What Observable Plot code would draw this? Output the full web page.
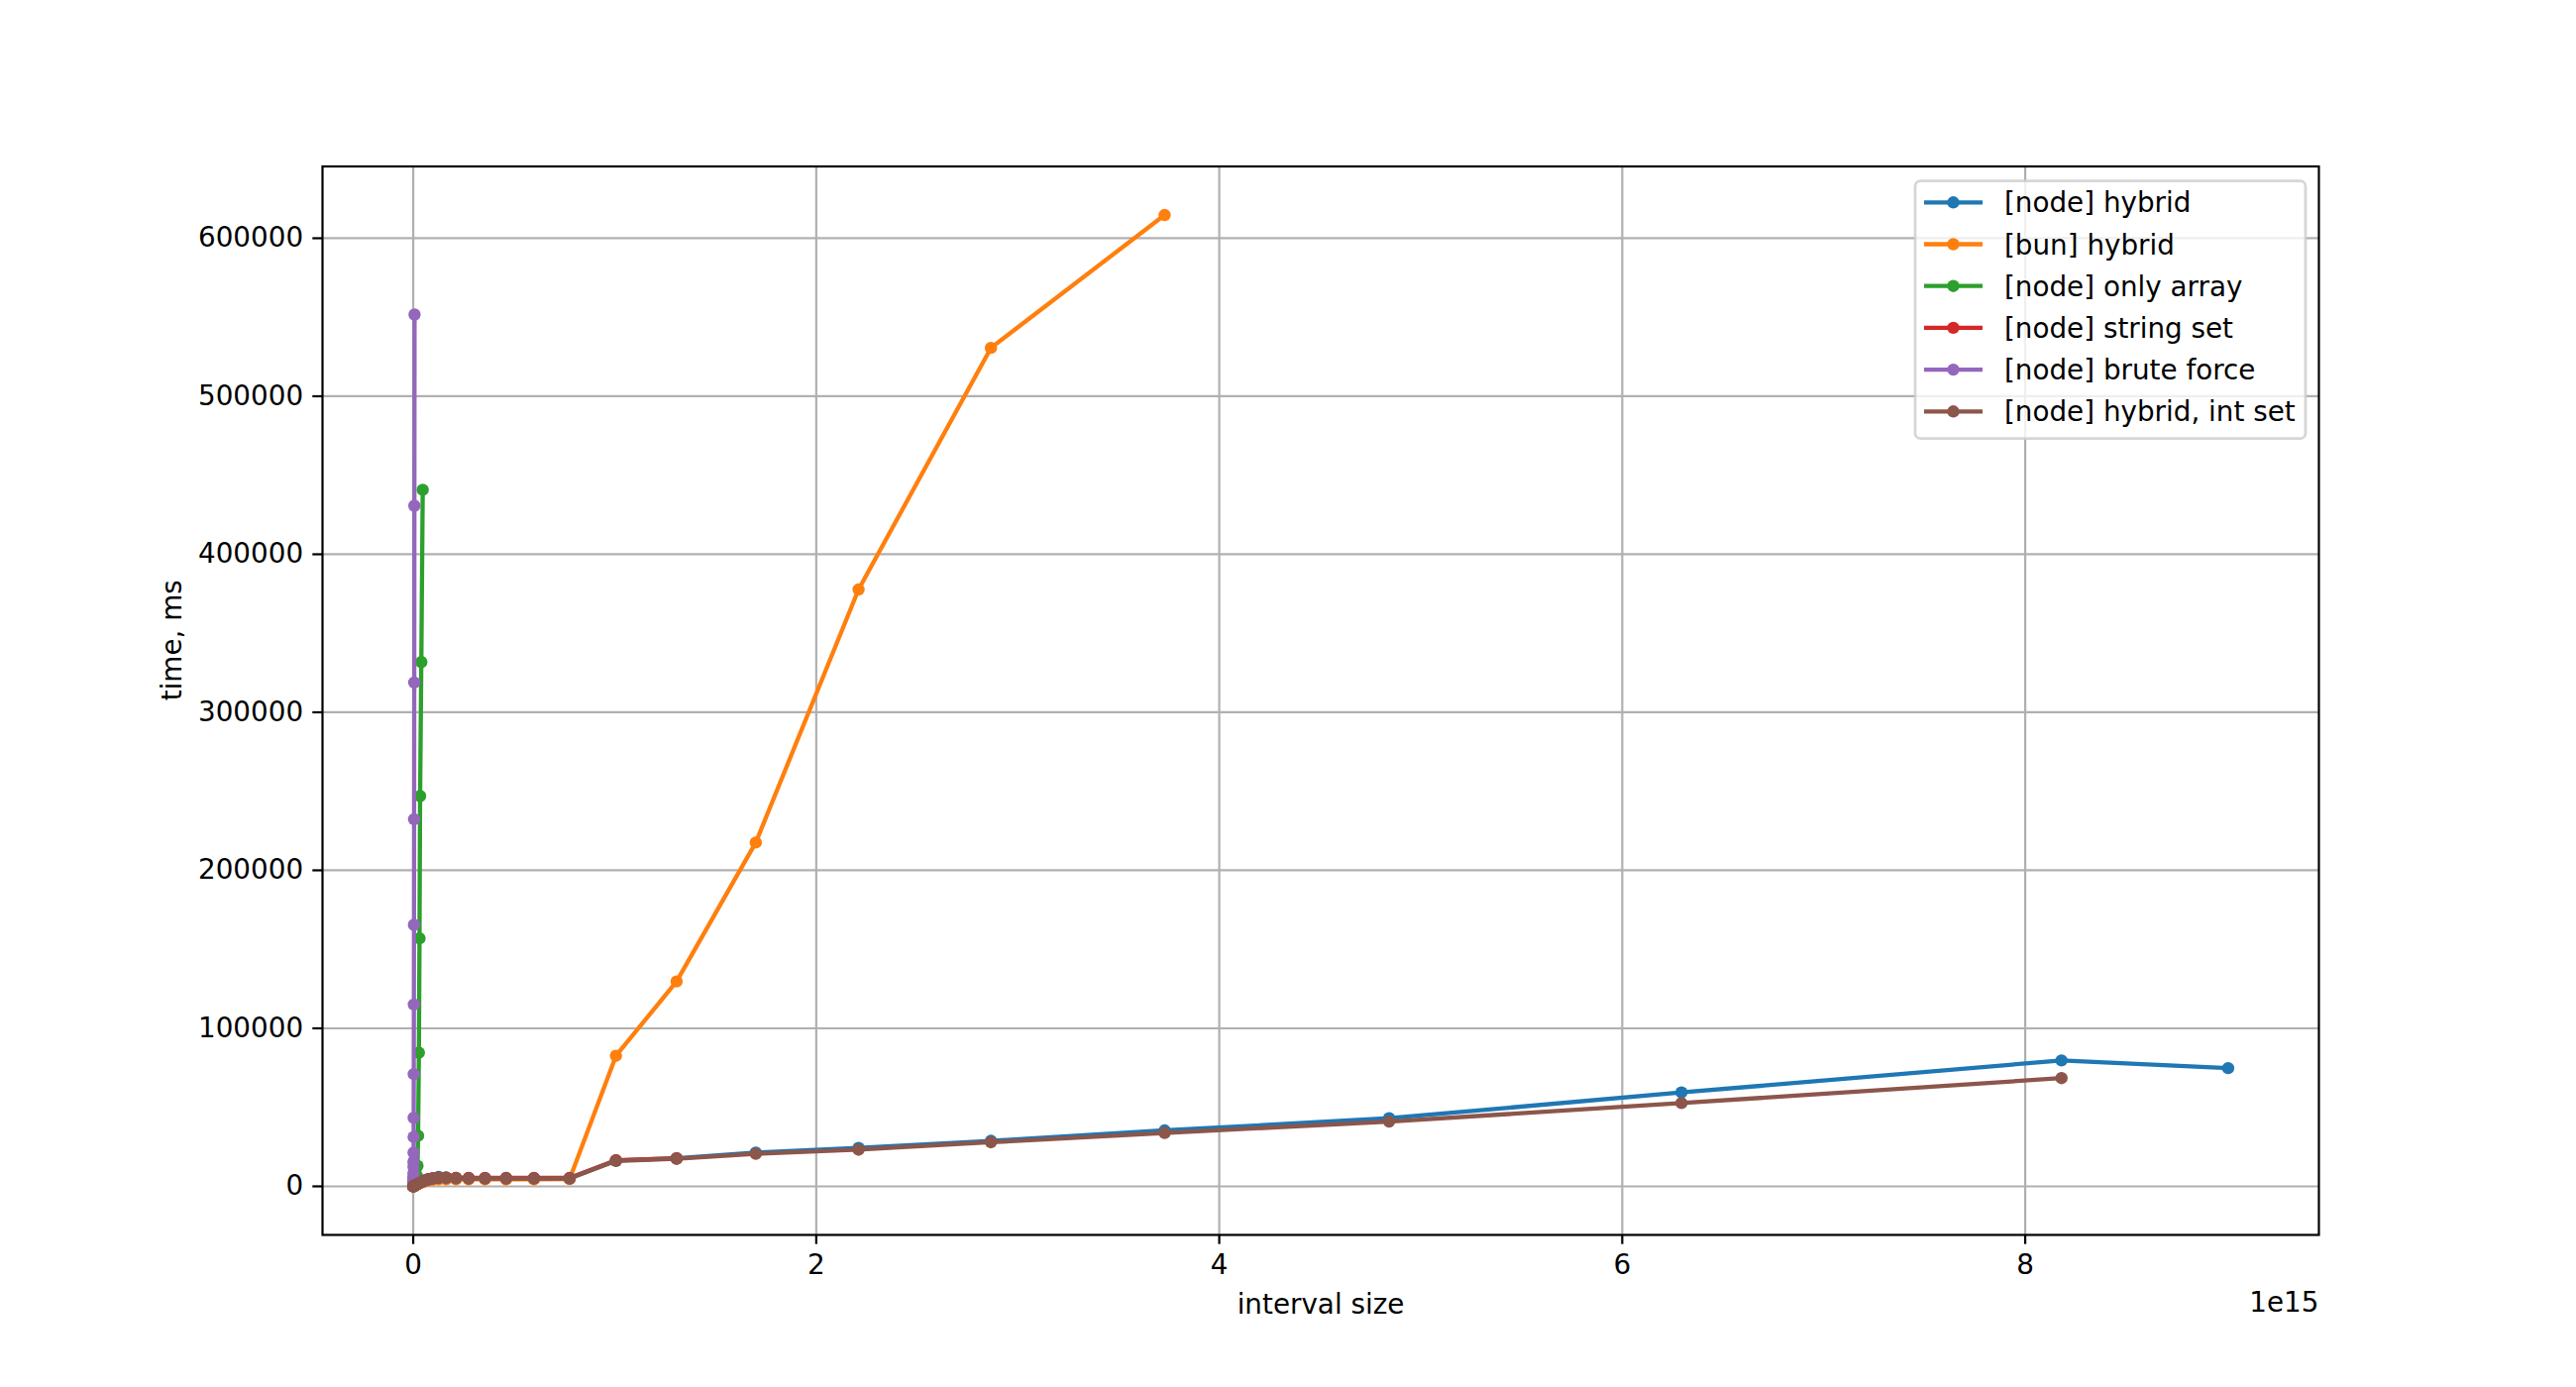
<!DOCTYPE html>
<html>
<head>
<meta charset="utf-8">
<script src="https://cdn.jsdelivr.net/npm/d3@7"></script>
<script src="https://cdn.jsdelivr.net/npm/@observablehq/plot@0.6"></script>
<style>
  html, body { margin: 0; padding: 0; background: #ffffff; }
  #chart svg { display: block; }
</style>
</head>
<body>
<div id="chart"></div>
<script>
// ---- series names & colours ----
const seriesNames = [
  "[node] hybrid",
  "[bun] hybrid",
  "[node] only array",
  "[node] string set",
  "[node] brute force",
  "[node] hybrid, int set"
];
const seriesColors = ["#1f77b4", "#ff7f0e", "#2ca02c", "#d62728", "#9467bd", "#8c564b"];

// ---- x values: interval size, in units of 1e15 ----
const hybridLowX = [0.0001, 0.0005, 0.001, 0.002, 0.003, 0.005, 0.007, 0.009, 0.012, 0.0155,
                    0.020, 0.026, 0.034, 0.044, 0.058, 0.075, 0.097, 0.126, 0.163, 0.212,
                    0.275, 0.356, 0.461, 0.599, 0.776];
const hybridHighX = [1.006, 1.307, 1.70, 2.21, 2.867, 3.729, 4.843, 6.294, 8.18, 9.007];
const onlyArrayX = [0.0001, 0.0005, 0.001, 0.002, 0.003, 0.005, 0.007, 0.010, 0.013, 0.017,
                    0.021, 0.024, 0.028, 0.031, 0.034, 0.040, 0.047];
const bruteForceX = [0.0001, 0.0002, 0.0003, 0.0004, 0.0005, 0.0007, 0.0009, 0.0011, 0.0013, 0.0016,
                     0.0019, 0.0022, 0.0026, 0.0031, 0.0036, 0.0042, 0.0049, 0.0056, 0.0064];

// ---- y values: time, ms ----
const nodeHybridY = [10, 40, 85, 160, 240, 400, 550, 720, 950, 1200,
                     1500, 1900, 2450, 3000, 3800, 4500, 5200, 5900, 5600, 5300,
                     5200, 5200, 5200, 5200, 5200,
                     16400, 17800, 21300, 24300, 28800, 35400, 43100, 59400, 79700, 74800];
const bunHybridY = [8, 30, 70, 130, 200, 330, 450, 600, 800, 1000,
                    1300, 1650, 2100, 2600, 3200, 3800, 4200, 4400, 4400, 4400,
                    4400, 4400, 4400, 4400, 4600,
                    82600, 129700, 217600, 377700, 530600, 614700];
const onlyArrayY = [5, 30, 70, 160, 260, 500, 900, 1800, 3500, 7000,
                    13000, 32000, 84600, 156900, 247000, 331800, 440800];
const stringSetY = [10, 45, 90, 170, 250, 420, 580, 750, 1000, 1250,
                    1600, 2000, 2550, 3100, 3800, 4500, 5100, 5500, 5500, 5400,
                    5300, 5300, 5300, 5300, 5300,
                    16500, 17700];
const bruteForceY = [100, 400, 1000, 2000, 3500, 5400, 8200, 12400, 15500, 21400,
                     31200, 43400, 71000, 115100, 165500, 232300, 318800, 430700, 551700];
const intSetY = [10, 40, 80, 150, 230, 380, 520, 680, 900, 1150,
                 1450, 1850, 2350, 2900, 3600, 4300, 4900, 5300, 5300, 5100,
                 5000, 5000, 5000, 5000, 5000,
                 16100, 17400, 20600, 23200, 27900, 33800, 41000, 52700, 68500];

// ---- tick values ----
const xTicks = [0, 2, 4, 6, 8];
const yTicks = [0, 100000, 200000, 300000, 400000, 500000, 600000];

// ---- build tables ----
const allHybridX = hybridLowX.concat(hybridHighX);
const seriesX = [allHybridX, allHybridX, onlyArrayX, allHybridX, bruteForceX, allHybridX];
const seriesY = [nodeHybridY, bunHybridY, onlyArrayY, stringSetY, bruteForceY, intSetY];
const tables = seriesNames.map((name, s) =>
  seriesY[s].map((y, i) => ({name, x: seriesX[s][i], y}))
);

const FS = 27.8;
const LW = 4.3;
const DOT_R = 6.2;

const marks = [
  Plot.gridX(xTicks, {stroke: "#b0b0b0", strokeOpacity: 1, strokeWidth: 2.2}),
  Plot.gridY(yTicks, {stroke: "#b0b0b0", strokeOpacity: 1, strokeWidth: 2.2})
];
tables.forEach((t, s) => {
  marks.push(Plot.line(t, {x: "x", y: "y", stroke: seriesColors[s], strokeWidth: LW, strokeLinejoin: "round", strokeLinecap: "butt"}));
  marks.push(Plot.dot(t, {x: "x", y: "y", fill: seriesColors[s], r: DOT_R, stroke: "none"}));
});
marks.push(
  Plot.frame({stroke: "#000", strokeWidth: 2.2}),
  Plot.axisX({ticks: xTicks, tickSize: 9.7, tickPadding: 9.7, strokeWidth: 2.2, stroke: "#000",
              tickFormat: d => String(d), label: null, fontSize: FS}),
  Plot.axisY({ticks: yTicks, tickSize: 9.7, tickPadding: 9.7, strokeWidth: 2.2, stroke: "#000",
              tickFormat: d => String(d), label: null, fontSize: FS}),
  Plot.text(["interval size"], {frameAnchor: "bottom", dy: 79, lineAnchor: "bottom", fontSize: FS, fill: "#000"}),
  Plot.text(["1e15"], {frameAnchor: "bottom-right", dy: 77, lineAnchor: "bottom", textAnchor: "end", fontSize: FS, fill: "#000"}),
  Plot.text(["time, ms"], {frameAnchor: "left", dx: -142.5, rotate: -90, lineAnchor: "bottom", fontSize: FS, fill: "#000"})
);

const svg = Plot.plot({
  width: 2600,
  height: 1400,
  marginLeft: 325,
  marginRight: 260,
  marginTop: 167.5,
  marginBottom: 154,
  x: {domain: [-0.4504, 9.4574]},
  y: {domain: [-30735, 645435]},
  style: {fontFamily: "'DejaVu Sans', sans-serif", fontSize: FS + "px", background: "#ffffff", color: "#000", overflow: "visible"},
  marks
});

// ---- legend (upper right, inside the axes) ----
const lg = d3.select(svg).append("g").attr("class", "legend")
  .attr("text-anchor", "start");
const lx = 1933, ly = 182.7, lw = 394, lh = 260, rowGap = 42.2, firstRow = 204.3;
lg.append("rect")
  .attr("x", lx).attr("y", ly).attr("width", lw).attr("height", lh)
  .attr("rx", 5.5).attr("ry", 5.5)
  .attr("fill", "#ffffff").attr("fill-opacity", 0.8)
  .attr("stroke", "#cccccc").attr("stroke-opacity", 0.8).attr("stroke-width", 2.8);
seriesNames.forEach((name, i) => {
  const cy = firstRow + i * rowGap;
  lg.append("line")
    .attr("x1", 1942).attr("x2", 2001).attr("y1", cy).attr("y2", cy)
    .attr("stroke", seriesColors[i]).attr("stroke-width", LW);
  lg.append("circle")
    .attr("cx", 1971.5).attr("cy", cy).attr("r", DOT_R).attr("fill", seriesColors[i]);
  lg.append("text")
    .attr("x", 2023).attr("y", cy + 10)
    .attr("text-anchor", "start")
    .attr("font-size", FS).attr("font-family", "'DejaVu Sans', sans-serif").attr("fill", "#000")
    .text(name);
});

document.getElementById("chart").appendChild(svg);
</script>
</body>
</html>
